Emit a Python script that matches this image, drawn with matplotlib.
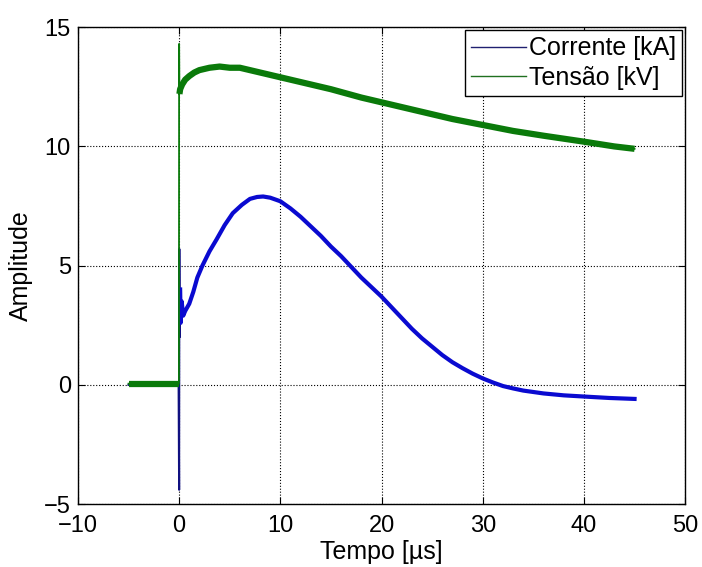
import numpy as np
import matplotlib
matplotlib.use('Agg')
import matplotlib.pyplot as plt

plt.rcParams['font.family'] = ['Liberation Sans', 'DejaVu Sans']

# corrente [kA]
t_i = [-5.0, -0.05, 0.0, 0.02, 0.05, 0.1, 0.15, 0.25, 0.4, 0.6, 1.0, 1.4, 1.8,
       2.3, 3.0, 3.7, 4.5, 5.3, 6.2, 7.0, 7.7, 8.3, 9.0, 10.0, 11.0, 12.0, 13.0,
       14.0, 15.0, 16.0, 17.0, 18.0, 19.0, 20.0, 21.0, 22.0, 23.0, 24.0, 25.0,
       26.0, 27.0, 28.0, 29.0, 30.0, 31.0, 32.0, 33.0, 34.0, 35.0, 36.0, 37.0,
       38.0, 40.0, 42.5, 45.0]
corrente = [0.0, 0.0, -4.4, 5.7, 2.0, 4.0, 2.6, 3.5, 2.9, 3.1, 3.4, 3.9, 4.5,
            5.0, 5.6, 6.1, 6.7, 7.2, 7.55, 7.8, 7.88, 7.9, 7.85, 7.7, 7.4, 7.05,
            6.65, 6.25, 5.8, 5.4, 4.95, 4.5, 4.1, 3.7, 3.25, 2.8, 2.35, 1.95, 1.6,
            1.25, 0.95, 0.7, 0.47, 0.27, 0.1, -0.05, -0.15, -0.24, -0.3, -0.36,
            -0.4, -0.44, -0.49, -0.55, -0.59]

# tensao [kV]
t_v = [-5.0, -0.02, 0.0, 0.03, 0.1, 0.3, 0.6, 1.0, 1.5, 2.0, 3.0, 4.0, 5.0, 6.0,
       7.0, 8.0, 10.0, 12.0, 15.0, 18.0, 21.0, 24.0, 27.0, 30.0, 33.0, 36.0,
       40.0, 43.0, 45.0]
tensao = [0.05, 0.05, 14.3, 12.2, 12.4, 12.6, 12.8, 12.95, 13.1, 13.2, 13.3, 13.35,
          13.3, 13.3, 13.2, 13.1, 12.9, 12.7, 12.4, 12.05, 11.75, 11.45, 11.15,
          10.9, 10.65, 10.45, 10.2, 10.0, 9.9]

azul = '#0a0ad0'
verde = '#0a7a0a'

fig = plt.figure(figsize=(7.02, 5.67), dpi=100)
ax = fig.add_axes([0.111, 0.111, 0.865, 0.841])

# traço fino completo (pico em t=0) + faixa grossa do ruído
ax.plot(t_i, corrente, color='#101080', lw=1.5)
ax.plot(t_i[5:], corrente[5:], color=azul, lw=3)
ax.plot(t_v, tensao, color=verde, lw=1.3)
ax.plot(t_v[:2], tensao[:2], color=verde, lw=4.5, solid_capstyle='butt')
ax.plot(t_v[3:], tensao[3:], color=verde, lw=4.5, solid_capstyle='butt')

# legenda com linhas finas
h1, = ax.plot([], [], color='#202070', lw=1)
h2, = ax.plot([], [], color='#207020', lw=1)
leg = ax.legend([h1, h2], ['Corrente [kA]', 'Tensão [kV]'], loc='upper right',
                fontsize=18, fancybox=False, edgecolor='black', framealpha=1,
                borderaxespad=0.12, handlelength=2.2, handletextpad=0.1,
                borderpad=0.25, labelspacing=0.22)
leg.get_frame().set_linewidth(1)

ax.set_xlim(-10, 50)
ax.set_ylim(-5, 15)
ax.set_xticks(np.arange(-10, 51, 10))
ax.set_yticks(np.arange(-5, 16, 5))
ax.grid(True, color='black', linestyle=':', linewidth=0.8)
ax.tick_params(direction='in', top=True, right=True, labelsize=17, length=5)
ax.tick_params(axis='x', pad=8)
ax.tick_params(axis='y', pad=5)
for s in ax.spines.values():
    s.set_linewidth(1)

ax.set_xlabel('Tempo [µs]', fontsize=18, labelpad=2)
ax.set_ylabel('Amplitude', fontsize=18, labelpad=8)

fig.savefig('out.png', dpi=100)
